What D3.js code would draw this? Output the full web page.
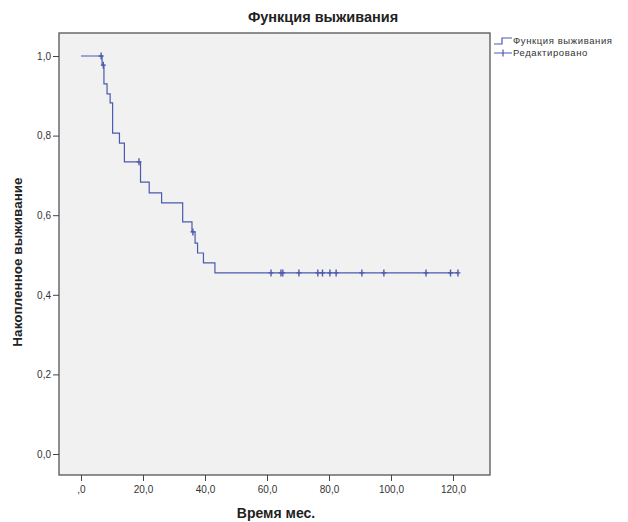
<!DOCTYPE html>
<html>
<head>
<meta charset="utf-8">
<script src="https://cdn.jsdelivr.net/npm/d3@7"></script>
<style>
  body { margin: 0; background: #fff; }
  text { font-family: "Liberation Sans", Arial, sans-serif; }
</style>
</head>
<body>
<div id="chart"></div>
<script>
// step points of the survival curve (time in months, cumulative survival)
const stepTimes = [0, 6.8, 7.4, 8.4, 9.4, 10.2, 12.4, 14.0, 19.2, 22.0, 26.0, 32.8, 35.8, 36.8, 37.6, 39.5, 43.2];
const stepSurv  = [1.0, 0.977, 0.930, 0.905, 0.882, 0.806, 0.781, 0.734, 0.683, 0.656, 0.631, 0.583, 0.558, 0.530, 0.505, 0.480, 0.455];
// censored observations (time in months)
const censorTimes = [6.5, 7.2, 18.7, 36.1, 61.3, 64.5, 65.1, 70.3, 76.4, 77.9, 80.3, 82.3, 90.6, 97.7, 111.3, 119.2, 121.6];

const xTicks = [0, 20, 40, 60, 80, 100, 120];
const xTickLabels = [",0", "20,0", "40,0", "60,0", "80,0", "100,0", "120,0"];
const yTicks = [0, 0.2, 0.4, 0.6, 0.8, 1.0];
const yTickLabels = ["0,0", "0,2", "0,4", "0,6", "0,8", "1,0"];
const legendLabels = ["Функция выживания", "Редактировано"];

const W = 628, H = 522;
const frame = { left: 59, right: 490, top: 33, bottom: 475 };
const lineColor = "#4c5aae";

const svg = d3.select("#chart").append("svg")
  .attr("width", W)
  .attr("height", H);

const x = d3.scaleLinear().domain([0, 120]).range([81, 453]);
const y = d3.scaleLinear().domain([0, 1]).range([454, 56]);

// plot area
svg.append("rect")
  .attr("x", frame.left).attr("y", frame.top)
  .attr("width", frame.right - frame.left)
  .attr("height", frame.bottom - frame.top)
  .attr("fill", "#f1f1f1")
  .attr("stroke", "#555")
  .attr("stroke-width", 1.3);

// axes
const xAxis = svg.append("g")
  .attr("transform", `translate(0,${frame.bottom})`)
  .call(d3.axisBottom(x).tickValues(xTicks).tickSize(6).tickPadding(5)
    .tickFormat((d, i) => xTickLabels[i]));
const yAxis = svg.append("g")
  .attr("transform", `translate(${frame.left},0)`)
  .call(d3.axisLeft(y).tickValues(yTicks).tickSize(6).tickPadding(2)
    .tickFormat((d, i) => yTickLabels[i]));
[xAxis, yAxis].forEach(g => {
  g.select(".domain").remove();
  g.selectAll("line").attr("stroke", "#444");
  g.selectAll("text").attr("fill", "#333").style("font-size", "10px").style("font-family", "'Liberation Sans', Arial, sans-serif");
});

// survival curve
const pts = stepTimes.map((t, i) => [t, stepSurv[i]]);
pts.push([d3.max(censorTimes), stepSurv[stepSurv.length - 1]]);
svg.append("path")
  .datum(pts)
  .attr("fill", "none")
  .attr("stroke", lineColor)
  .attr("stroke-width", 1.2)
  .attr("d", d3.line().x(d => x(d[0])).y(d => y(d[1])).curve(d3.curveStepAfter));

// censor marks
const survAt = t => stepSurv[d3.bisectRight(stepTimes, t) - 1];
svg.selectAll(".cens")
  .data(censorTimes)
  .enter().append("path")
  .attr("class", "cens")
  .attr("fill", "none")
  .attr("stroke", lineColor)
  .attr("stroke-width", 1.4)
  .attr("d", t => {
    const cx = x(t), cy = y(survAt(t));
    return `M${cx},${cy - 3.5}V${cy + 3.5}M${cx - 2.5},${cy}H${cx + 2.5}`;
  });

// titles
svg.append("text")
  .attr("x", 323).attr("y", 22)
  .attr("text-anchor", "middle")
  .style("font-size", "14.5px").style("font-weight", "bold")
  .attr("fill", "#222")
  .text("Функция выживания");
svg.append("text")
  .attr("x", 276).attr("y", 518)
  .attr("text-anchor", "middle")
  .style("font-size", "14px").style("font-weight", "bold")
  .attr("fill", "#222")
  .text("Время мес.");
svg.append("text")
  .attr("transform", "translate(22,262) rotate(-90)")
  .attr("text-anchor", "middle")
  .style("font-size", "13.5px").style("font-weight", "bold")
  .attr("fill", "#222")
  .text("Накопленное выживание");

// legend
const lg = svg.append("g").attr("transform", "translate(494,0)");
lg.append("path")
  .attr("fill", "none").attr("stroke", lineColor).attr("stroke-width", 1.2)
  .attr("d", "M0,44H8V38H18");
lg.append("path")
  .attr("fill", "none").attr("stroke", lineColor).attr("stroke-width", 1.2)
  .attr("d", "M0,53H18M9,49.5V56.5");
lg.selectAll(".lt")
  .data(legendLabels)
  .enter().append("text")
  .attr("x", 19).attr("y", (d, i) => 44 + i * 12)
  .style("font-size", "9.5px")
  .style("letter-spacing", "0.6px")
  .attr("fill", "#333")
  .text(d => d);
</script>
</body>
</html>
